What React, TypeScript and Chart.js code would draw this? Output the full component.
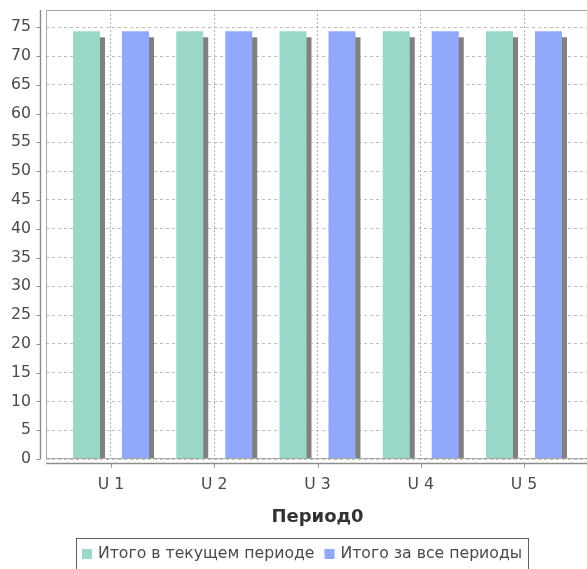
import { useEffect, useRef } from "react";
import { Chart, registerables } from "chart.js";

Chart.register(...registerables);

const categories = ["U 1", "U 2", "U 3", "U 4", "U 5"];
const currentPeriod = [74.3, 74.3, 74.3, 74.3, 74.3];
const allPeriods = [74.3, 74.3, 74.3, 74.3, 74.3];
const seriesLabels = ["Итого в текущем периоде", "Итого за все периоды"];
const seriesColors = ["#9ad9ca", "#92a9fb"];
const axisTitle = "Период0";
const yMax = 78;
const yStep = 5;

const FONT = "'DejaVu Sans', 'Noto Sans', sans-serif";

const shadowPlugin = {
  id: "barShadow",
  beforeDatasetsDraw(chart: any) {
    const { ctx, chartArea } = chart;
    ctx.save();
    ctx.beginPath();
    ctx.rect(chartArea.left, chartArea.top, chartArea.right - chartArea.left, chartArea.bottom - chartArea.top);
    ctx.clip();
    ctx.fillStyle = "#808080";
    chart.data.datasets.forEach((_ds: any, i: number) => {
      const meta = chart.getDatasetMeta(i);
      meta.data.forEach((el: any) => {
        const { x, y, base, width } = el.getProps(["x", "y", "base", "width"], true);
        ctx.fillRect(x - width / 2 + 5, y + 6, width, base - y - 6);
      });
    });
    ctx.restore();
  },
};

const framePlugin = {
  id: "frame",
  afterDatasetsDraw(chart: any) {
    const { ctx, chartArea } = chart;
    const { left, top, right, bottom } = chartArea;
    ctx.save();
    ctx.strokeStyle = "#a8a8a8";
    ctx.lineWidth = 1;
    ctx.strokeRect(left + 0.5, top + 0.5, right - left - 1, bottom - top - 1);

    // y axis with offset
    const ax = left - 5.5;
    ctx.strokeStyle = "#8c8c8c";
    ctx.lineWidth = 1.4;
    ctx.beginPath();
    ctx.moveTo(ax, top);
    ctx.lineTo(ax, bottom);
    ctx.stroke();
    const ys = chart.scales.y;
    ctx.lineWidth = 1;
    ys.ticks.forEach((t: any) => {
      const py = Math.round(ys.getPixelForValue(t.value)) + 0.5;
      ctx.beginPath();
      ctx.moveTo(ax - 4, py);
      ctx.lineTo(ax, py);
      ctx.stroke();
    });

    // x axis with offset
    const ay = bottom + 4.5;
    ctx.lineWidth = 1.4;
    ctx.beginPath();
    ctx.moveTo(left, ay);
    ctx.lineTo(right, ay);
    ctx.stroke();
    const xs = chart.scales.x;
    ctx.lineWidth = 1;
    xs.ticks.forEach((t: any) => {
      const px = Math.round(xs.getPixelForValue(t.value)) + 0.5;
      ctx.beginPath();
      ctx.moveTo(px, ay);
      ctx.lineTo(px, ay + 4);
      ctx.stroke();
    });
    ctx.restore();
  },
};

const legendPlugin = {
  id: "boxLegend",
  afterDraw(chart: any) {
    const ctx = chart.ctx;
    ctx.save();
    ctx.font = `15.7px ${FONT}`;
    const items = chart.data.datasets.map((ds: any) => ({
      label: ds.label as string,
      color: ds.backgroundColor as string,
      w: ctx.measureText(ds.label).width,
    }));
    const pad = 6;
    const sw = 10;
    const gap = 6;
    const itemGap = 10;
    const total =
      pad * 2 +
      items.reduce((a: number, it: any) => a + sw + gap + it.w, 0) +
      itemGap * (items.length - 1);
    const left = Math.round(chart.width / 2 - total / 2);
    const top = Math.round(chart.chartArea.bottom + chart.scales.x.height + 10);
    ctx.strokeStyle = "#606060";
    ctx.lineWidth = 1;
    ctx.strokeRect(left + 0.5, top + 0.5, Math.round(total), 36);
    let x = left + pad;
    const cy = top + 16;
    items.forEach((it: any) => {
      ctx.fillStyle = it.color;
      ctx.fillRect(x, cy - 5, sw, sw);
      x += sw + gap;
      ctx.fillStyle = "#4a4a4a";
      ctx.textBaseline = "middle";
      ctx.textAlign = "left";
      ctx.fillText(it.label, x, cy);
      x += it.w + itemGap;
    });
    ctx.restore();
  },
};

export default function App() {
  const canvasRef = useRef<HTMLCanvasElement | null>(null);

  useEffect(() => {
    if (!canvasRef.current) return;
    Chart.defaults.font.family = FONT;
    const chart = new Chart(canvasRef.current, {
      type: "bar",
      data: {
        datasets: [
          {
            label: seriesLabels[0],
            data: categories.map((_c, i) => ({ x: i + 1, y: currentPeriod[i] })),
            backgroundColor: seriesColors[0],
            borderWidth: 0,
          },
          {
            label: seriesLabels[1],
            data: categories.map((_c, i) => ({ x: i + 1, y: allPeriods[i] })),
            backgroundColor: seriesColors[1],
            borderWidth: 0,
          },
        ],
      },
      options: {
        animation: false,
        responsive: true,
        maintainAspectRatio: false,
        layout: { padding: { top: 10, left: 0, right: 15, bottom: 41.2 } },
        datasets: { bar: { categoryPercentage: 0.949, barPercentage: 0.551 } } as any,
        plugins: {
          legend: { display: false },
          tooltip: { enabled: false },
        },
        scales: {
          x: {
            type: "linear",
            offset: false,
            min: 0.3705,
            max: 5.6295,
            ticks: {
              stepSize: 1,
              includeBounds: false,
              padding: 17,
              color: "#4a4a4a",
              font: { size: 15.7 },
              callback: (v: any) => categories[Math.round(v) - 1] ?? "",
            } as any,
            grid: { color: "#b4b4b4", drawTicks: false, lineWidth: 1, offset: false },
            border: { display: false, dash: [2, 2] },
            title: {
              display: true,
              text: axisTitle,
              color: "#333333",
              font: { size: 18, weight: "bold" },
              padding: { top: 0, bottom: 0 },
            },
            afterFit(s: any) {
              s.height = 68.8;
              s.paddingLeft = 0;
              s.paddingRight = 0;
            },
          } as any,
          y: {
            min: 0,
            max: yMax,
            ticks: {
              stepSize: yStep,
              includeBounds: false,
              padding: 15,
              color: "#4a4a4a",
              font: { size: 15.7 },
            } as any,
            grid: { color: "#bcbcbc", drawTicks: false, lineWidth: 1 },
            border: { display: false, dash: [3, 3] },
            afterFit(s: any) {
              s.width = 46;
              s.paddingTop = 0;
              s.paddingBottom = 0;
            },
          } as any,
        },
      },
      plugins: [shadowPlugin, framePlugin, legendPlugin],
    });
    return () => chart.destroy();
  }, []);

  return (
    <div style={{ position: "fixed", left: 0, top: 0, width: 587, height: 569, overflow: "hidden", background: "#fff" }}>
      <div style={{ width: 604, height: 569, position: "relative" }}>
        <canvas ref={canvasRef} />
      </div>
    </div>
  );
}
